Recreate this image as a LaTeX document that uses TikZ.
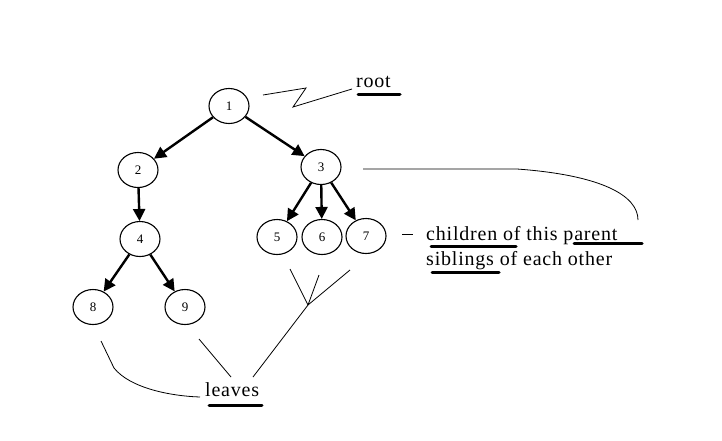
\documentclass[tikz,border=0pt]{standalone}
\usepackage{fontspec}
\setmainfont{Liberation Serif}
\usetikzlibrary{arrows.meta,shapes.geometric}
\begin{document}
\begin{tikzpicture}[x=1pt,y=-1pt,
  tnode/.style={draw,ellipse,line width=1.1pt,minimum width=40pt,minimum height=35pt,inner sep=0pt,font=\fontsize{13}{14}\selectfont},
  tarrow/.style={line width=2.4pt,-{Triangle[length=12pt,width=12pt]}},
  thin line/.style={line width=0.8pt},
  uline/.style={line width=3pt,line cap=round},
  lbl/.style={inner sep=0pt,anchor=base west,font=\fontsize{20}{24}\selectfont\addfontfeature{LetterSpace=4}}]
\useasboundingbox (0,0) rectangle (722,440);
\node[tnode] (n1) at (229,106) {1};
\node[tnode] (n2) at (138,170) {2};
\node[tnode] (n3) at (321,167) {3};
\node[tnode] (n4) at (140,239) {4};
\node[tnode] (n5) at (277,237) {5};
\node[tnode] (n6) at (322,237) {6};
\node[tnode] (n7) at (366,236) {7};
\node[tnode] (n8) at (93,307) {8};
\node[tnode] (n9) at (185,307) {9};
\draw[tarrow] (n1) -- (n2);
\draw[tarrow] (n1) -- (n3);
\draw[tarrow] (n2) -- (n4);
\draw[tarrow] (n3) -- (n5);
\draw[tarrow] (n3) -- (n6);
\draw[tarrow] (n3) -- (n7);
\draw[tarrow] (n4) -- (n8);
\draw[tarrow] (n4) -- (n9);
% root
\node[lbl] (root) at (356,87) {root};
\coordinate (rz1) at (263,95);
\draw[thin line] (rz1) -- (306,88) -- (293,107) -- (352,89);
\draw[uline] (358,94) -- (400,94);
% children / siblings
\node[lbl] (chl) at (426,240) {children of this parent};
\node[lbl] (sib) at (426,265) {siblings of each other};
\coordinate (d1) at (402,234);
\coordinate (d2) at (413,234);
\draw[thin line] (d1) -- (d2);
\draw[uline] (431,246) -- (516,246);
\draw[uline] (574,243) -- (642,243);
\draw[uline] (432,272) -- (499,272);
\coordinate (p1) at (363,169);
\coordinate (p2) at (517,169);
\coordinate (p3) at (638,220);
\draw[thin line] (p1) -- (p2) .. controls (600,175) and (638,195) .. (p3);
% leaves
\node[lbl] (leaves) at (205,396) {leaves};
\draw[uline] (209,405) -- (262,405);
\coordinate (l1) at (101,341);
\coordinate (l2) at (114,368);
\coordinate (l3) at (200,397);
\draw[thin line] (l1) -- (l2) .. controls (130,388) and (170,396) .. (l3);
\coordinate (m1) at (199,339);
\coordinate (m2) at (231,377);
\draw[thin line] (m1) -- (m2);
\coordinate (v0) at (253,377);
\coordinate (v1) at (308,305);
\draw[thin line] (v0) -- (v1) -- (350,270);
\draw[thin line] (v1) -- (290,269);
\draw[thin line] (v1) -- (319,275);
\end{tikzpicture}
\end{document}
